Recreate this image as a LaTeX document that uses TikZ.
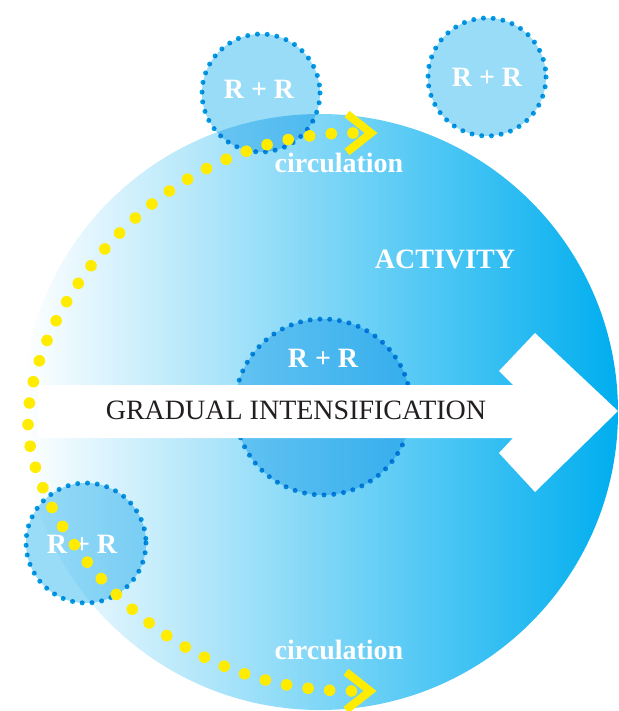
\documentclass[tikz,border=0pt]{standalone}
\usepackage{fontspec}
\setmainfont{Liberation Serif}
\usetikzlibrary{calc,decorations.markings}

\definecolor{procyan}{RGB}{0,174,239}
\definecolor{midcyan}{RGB}{105,204,243}
\definecolor{ringblue}{RGB}{0,158,228}
\definecolor{ringfill}{RGB}{153,220,247}
\definecolor{chevyellow}{RGB}{255,236,0}
\definecolor{darktext}{RGB}{35,31,32}

\tikzset{
	ring/.style={draw=ringblue, fill=ringfill, line width=5pt, line cap=round, dash pattern=on 0pt off 9.8pt, blend mode=multiply},
	ringtext/.style={text=white, font=\bfseries\fontsize{28}{30}\selectfont, anchor=base, inner sep=0pt},
	flowtext/.style={text=white, font=\bfseries\fontsize{28}{30}\selectfont, anchor=base, inner sep=0pt},
	trail/.style={postaction={decorate}, decoration={markings, mark=between positions 0 and 1 step 0.02324 with {\fill[chevyellow] (0,0) circle (5.8pt);}}},
	chevron/.style={draw=chevyellow, line width=8pt, line join=miter}
}

\begin{document}
\begin{tikzpicture}[x=1pt, y=-1pt]
				\useasboundingbox (0,0) rectangle (618,711);
				
				\coordinate (hub) at (320,412);
				\coordinate (topring) at (261,93);
				\coordinate (rightring) at (487,77);
				\coordinate (midring) at (323,407);
				\coordinate (leftring) at (86,543);
				
				\shade[left color=white, middle color=midcyan, right color=procyan] (hub) circle[radius=298];
				
				\draw[ring] (topring) circle[radius=59];
				\draw[ring] (rightring) circle[radius=59];
				\draw[ring] (midring) circle[radius=88];
				\draw[ring] (leftring) circle[radius=60];
				
				\fill[white] (38,385) -- (513,385) -- (499,371) -- (535,333) -- (618,411)
					-- (535,492) -- (499,453) -- (513,438) -- (38,438) -- cycle;
				
				\node[ringtext] (rrtop) at (259,99) {R + R};
				\node[ringtext] (rrright) at (487,87) {R + R};
				\node[ringtext] (rrmid) at (323,367) {R + R};
				\node[ringtext] (rrleft) at (82,553) {R + R};
				\node[flowtext] (activity) at (445,268) {ACTIVITY};
				\node[flowtext] (circtop) at (339,173) {circulation};
				\node[flowtext] (circbot) at (339,659) {circulation};
				\node[anchor=base, inner sep=0pt, text=darktext, font=\fontsize{28}{30}\selectfont] (gradual) at (296,419) {GRADUAL INTENSIFICATION};
				
				\coordinate (trailtop) at (353,133);
				\coordinate (trailleft) at (28,424);
				\coordinate (trailbot) at (352,691);
				
				\path[trail] (trailtop) .. controls +(-200,0) and +(0,-110) .. (trailleft)
					.. controls +(0,85) and +(-210,0) .. (trailbot);
				
				\draw[chevron] ($(trailtop)+(-6,-19)$) -- ($(trailtop)+(18,0)$) -- ($(trailtop)+(-6,19)$);
				\draw[chevron] ($(trailbot)+(-6,-19)$) -- ($(trailbot)+(18,0)$) -- ($(trailbot)+(-6,19)$);
				\end{tikzpicture}
\end{document}
